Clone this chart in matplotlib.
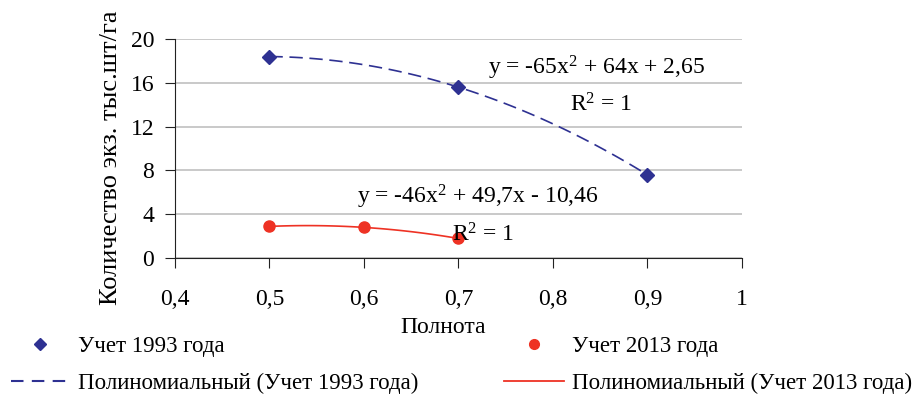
import numpy as np
import matplotlib
matplotlib.use("Agg")
import matplotlib.pyplot as plt
from matplotlib.lines import Line2D

# Data
x_1993 = [0.5, 0.7, 0.9]
y_1993 = [18.4, 15.6, 7.6]
x_2013 = [0.5, 0.6, 0.7]
y_2013 = [2.89, 2.8, 1.79]

x_ticks = [0.4, 0.5, 0.6, 0.7, 0.8, 0.9, 1.0]
x_tick_labels = ["0,4", "0,5", "0,6", "0,7", "0,8", "0,9", "1"]
y_ticks = [0, 4, 8, 12, 16, 20]

eq_1993 = "y = -65x$^2$ + 64x + 2,65"
eq_2013 = "y = -46x$^2$ + 49,7x - 10,46"
r2_text = "R$^2$ = 1"

blue = "#2E3192"
red = "#EE3224"

plt.rcParams["font.family"] = ["Liberation Serif", "DejaVu Serif"]
plt.rcParams["mathtext.fontset"] = "custom"
plt.rcParams["mathtext.rm"] = "Liberation Serif"
plt.rcParams["mathtext.it"] = "Liberation Serif"
plt.rcParams["font.size"] = 17

fig = plt.figure(figsize=(9.16, 3.94), dpi=100)
ax = fig.add_axes([0.191, 0.345, 0.619, 0.556])

# polynomial trend lines (2nd order), fitted to the points
xs = np.linspace(x_1993[0], x_1993[-1], 100)
p1 = np.polyfit(x_1993, y_1993, 2)
ax.plot(xs, np.polyval(p1, xs), color=blue, ls=(0, (8, 4)), lw=1.2, zorder=2)
xs2 = np.linspace(x_2013[0], x_2013[-1], 100)
p2 = np.polyfit(x_2013, y_2013, 2)
ax.plot(xs2, np.polyval(p2, xs2), color=red, lw=1.2, zorder=2)

ax.plot(x_1993, y_1993, ls="none", marker="D", ms=7, color=blue, zorder=3)
ax.plot(x_2013, y_2013, ls="none", marker="o", ms=8, color=red, zorder=3)

ax.text(0.731, 17.4, eq_1993, va="center", ha="left", fontsize=17)
ax.text(0.818, 14.0, r2_text, va="center", ha="left", fontsize=17)
ax.text(0.593, 5.6, eq_2013, va="center", ha="left", fontsize=17)
ax.text(0.693, 2.1, r2_text, va="center", ha="left", fontsize=17)

ax.set_xlim(0.4, 1.0)
ax.set_ylim(0, 20)
ax.set_xticks(x_ticks)
ax.set_xticklabels(x_tick_labels)
ax.set_yticks(y_ticks)
ax.grid(axis="y", color="#C0C0C0", lw=1.2)
ax.set_axisbelow(True)
for s in ["top", "right"]:
    ax.spines[s].set_visible(False)
ax.spines["left"].set_color("#222222")
ax.spines["bottom"].set_color("#222222")
ax.tick_params(axis="x", direction="out", length=7, pad=15, colors="#222222", labelcolor="black")
ax.tick_params(axis="y", direction="out", length=7, pad=8, colors="#222222", labelcolor="black")

ax.set_xlabel("Полнота", fontsize=17)
ax.xaxis.set_label_coords(0.473, -0.27)
ax.set_ylabel("Количество экз. тыс.шт/га", fontsize=19)
ax.yaxis.set_label_coords(-0.094, 0.46)

handles = [
    Line2D([], [], ls="none", marker="D", ms=6, color=blue),
    Line2D([], [], color=blue, ls=(0, (6, 4)), lw=1.5),
    Line2D([], [], ls="none", marker="o", ms=7, color=red),
    Line2D([], [], color=red, lw=1.3),
]
labels = [
    "Учет 1993 года",
    "Полиномиальный (Учет 1993 года)",
    "Учет 2013 года",
    "Полиномиальный (Учет 2013 года)",
]
fig.legend(handles, labels, ncol=2, loc="lower left", bbox_to_anchor=(-0.006, -0.04),
           frameon=False, fontsize=16.5, handlelength=2.6, handletextpad=0.35,
           columnspacing=3.75, labelspacing=0.68, borderpad=0.2)

fig.savefig("out.png", dpi=100)
